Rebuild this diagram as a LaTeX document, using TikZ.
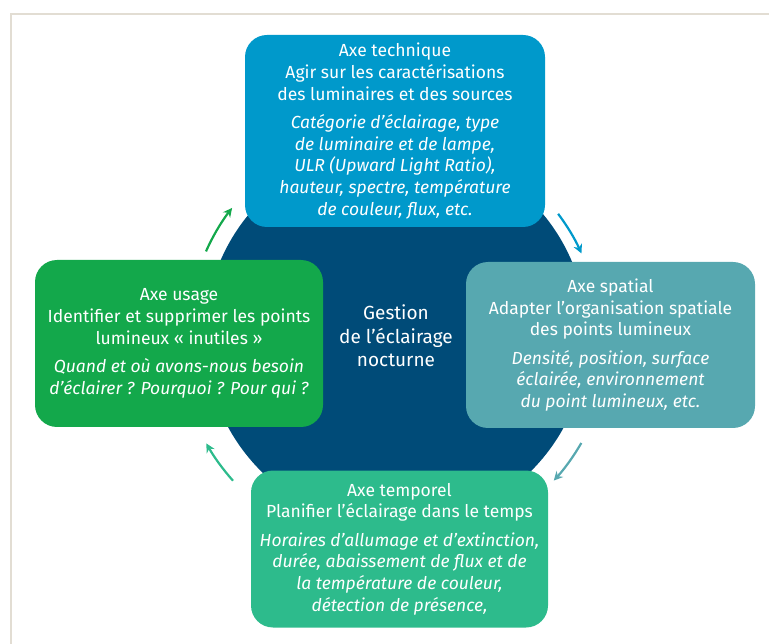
\documentclass[tikz,border=0pt]{standalone}
\usepackage{fontspec}
\setmainfont{Fira Sans}
\usetikzlibrary{calc,arrows.meta}

\definecolor{techc}{HTML}{0099CB}
\definecolor{usagec}{HTML}{13A84B}
\definecolor{spatc}{HTML}{57A8B0}
\definecolor{tempc}{HTML}{2DBB8C}
\definecolor{gestc}{HTML}{004B78}
\definecolor{framec}{HTML}{E2DDD3}

\begin{document}
\begin{tikzpicture}[
	x=1pt,
	y=1pt,
	axe/.style={
		rounded corners=22pt,
		text=white,
		align=center,
		inner sep=0pt,
		font=\fontsize{17.5}{21.6}\selectfont
	},
	arr/.style={
		line width=2.2pt,
		-{Stealth[length=9pt,width=9pt]}
	}
	]
	\useasboundingbox (0,0) rectangle (769,-644);
	\draw[framec, line width=2pt] (11,-644) -- (11,-14) -- (769,-14);

	\node[circle, fill=gestc, minimum size=382pt, inner sep=0pt, text=white, align=center,
		font=\fontsize{19}{23.5}\selectfont] (gestion) at (396,-336)
		{Gestion\\de l'éclairage\\nocturne};

	\node[axe, fill=techc, minimum width=300pt, minimum height=192pt] (technique) at (395,-131)
		{Axe technique\\Agir sur les caractérisations\\des luminaires et des sources\\[7pt]
		\itshape Catégorie d'éclairage, type\\\itshape de luminaire et de lampe,\\\itshape ULR (Upward Light Ratio),\\
		\itshape hauteur, spectre, température\\\itshape de couleur, flux, etc.};
	\node[axe, fill=usagec, minimum width=288pt, minimum height=167pt] (usage) at (179,-343.5)
		{Axe usage\\Identifier et supprimer les points\\lumineux « inutiles »\\[7pt]
		\itshape Quand et où avons-nous besoin\\\itshape d'éclairer ? Pourquoi ? Pour qui ?};
	\node[axe, fill=spatc, minimum width=289pt, minimum height=166pt] (spatial) at (610.5,-345)
		{Axe spatial\\Adapter l'organisation spatiale\\des points lumineux\\[7pt]
		\itshape Densité, position, surface\\\itshape éclairée, environnement\\\itshape du point lumineux, etc.};
	\node[axe, fill=tempc, minimum width=297pt, minimum height=157pt] (temporel) at (399.5,-549)
		{Axe temporel\\Planifier l'éclairage dans le temps\\[7pt]
		\itshape Horaires d'allumage et d'extinction,\\\itshape durée, abaissement de flux et de\\
		\itshape la température de couleur,\\\itshape détection de présence,};

	% arrows round the circle
	\coordinate (us-te) at ($(gestion.center)+(156:208)$);
	\coordinate (te-sp) at ($(gestion.center)+(37:203)$);
	\coordinate (sp-tm) at ($(gestion.center)+(-30:214)$);
	\coordinate (tm-us) at ($(gestion.center)+(221.6:218)$);
	\draw[arr, usagec] (us-te) arc[start angle=156, end angle=142, radius=208];
	\draw[arr, techc] (te-sp) arc[start angle=37, end angle=24, radius=203];
	\draw[arr, spatc] (sp-tm) arc[start angle=-30, end angle=-42.5, radius=214];
	\draw[arr, tempc] (tm-us) arc[start angle=221.6, end angle=209.5, radius=218];
\end{tikzpicture}
\end{document}
